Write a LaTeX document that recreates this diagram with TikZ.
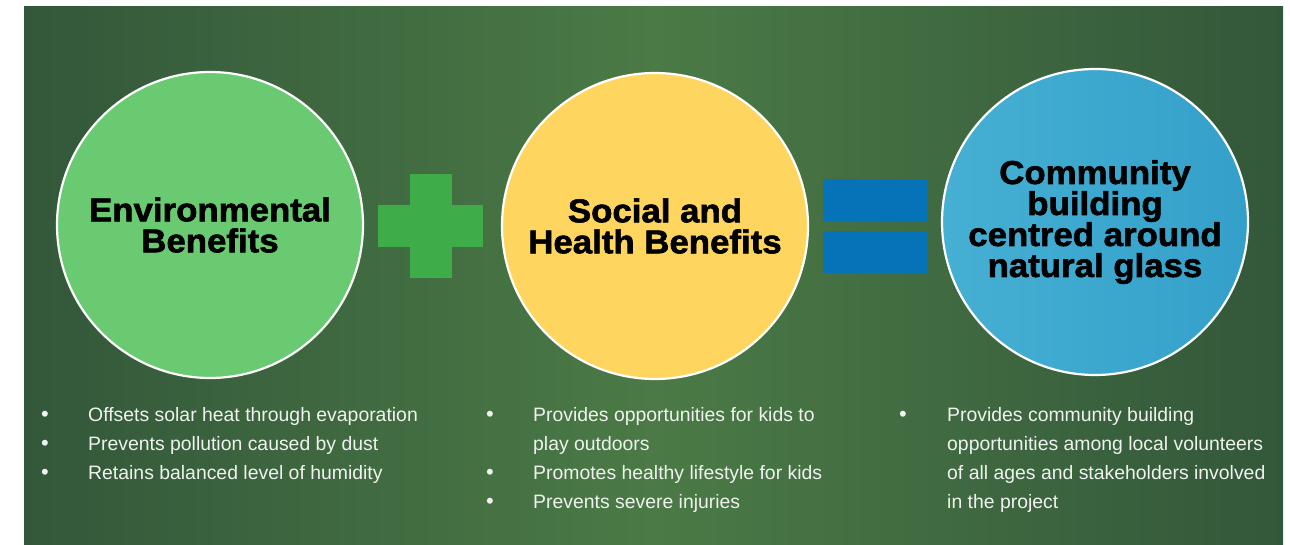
\documentclass[tikz,border=0pt]{standalone}
\usepackage{fontspec}
\setmainfont{Liberation Sans}
\newfontfamily\heavyfont{Liberation Sans}[BoldFeatures={FakeBold=1.8, FakeStretch=1.055}]
\usetikzlibrary{positioning}

\definecolor{bgdark}{HTML}{33573A}
\definecolor{bglight}{HTML}{4B7A46}
\definecolor{envgreen}{HTML}{6ACA72}
\definecolor{socyellow}{HTML}{FED65F}
\definecolor{comblueL}{HTML}{46B0D3}
\definecolor{comblueR}{HTML}{34A0CA}
\definecolor{plusgreen}{HTML}{3FAC4A}
\definecolor{eqblue}{HTML}{0672B8}
\definecolor{itemwhite}{HTML}{F0F2EF}

\tikzset{
	bubble/.style={circle, draw=white, line width=2.2pt, minimum size=306pt, inner sep=0pt,
		align=center, font=\heavyfont\bfseries\fontsize{33}{31}\selectfont},
	bar/.style={inner sep=0pt, outer sep=0pt},
	item/.style={anchor=base west, inner sep=0pt, text=itemwhite, font=\fontsize{19.4}{23}\selectfont},
	dot/.style={anchor=base, inner sep=0pt, text=itemwhite, font=\fontsize{22}{23}\selectfont}
}

\begin{document}
\begin{tikzpicture}[x=1pt, y=-1pt]
	\useasboundingbox (0,0) rectangle (1290,545);
	\shade[left color=bgdark, right color=bgdark, middle color=bglight] (24,7) rectangle (1283,545);

	% circles
	\node (env) [bubble, fill=envgreen] at (210,225) {Environmental\\Benefits};
	\node (soc) [bubble, fill=socyellow] at (655,226) {Social and\\Health Benefits};
	\node (com) [bubble, left color=comblueL, right color=comblueR] at (1095,222) {Community\\building\\centred around\\natural glass};

	% plus and equals
	\node (plusv) [bar, fill=plusgreen, minimum width=41.7pt, minimum height=103.7pt] at (430.8,225.9) {};
	\node (plush) [bar, fill=plusgreen, minimum width=104.4pt, minimum height=41.7pt] at (430.5,225.9) {};
	\node (eqtop) [bar, fill=eqblue, minimum width=104pt, minimum height=41.7pt] at (874.7,199.9) {};
	\node (eqbot) [bar, fill=eqblue, minimum width=104pt, minimum height=42pt] at (874.7,251.7) {};

	% environmental items
	\foreach \y/\txt [count=\i] in {421/Offsets solar heat through evaporation, 450/Prevents pollution caused by dust, 479/Retains balanced level of humidity} {
		\node (envdot\i) [dot] at (45,\y) {•};
		\node (envitem\i) [item] at (88,\y) {\txt};
	}

	% social items
	\node (socdot1) [dot] at (490,421) {•};
	\node (socitem1) [item] at (533,421) {Provides opportunities for kids to};
	\node (socitem2) [item] at (533,450) {play outdoors};
	\node (socdot3) [dot] at (490,479) {•};
	\node (socitem3) [item] at (533,479) {Promotes healthy lifestyle for kids};
	\node (socdot4) [dot] at (490,508) {•};
	\node (socitem4) [item] at (533,508) {Prevents severe injuries};

	% community items
	\node (comdot1) [dot] at (903,421) {•};
	\foreach \y/\txt [count=\i] in {421/Provides community building, 450/opportunities among local volunteers, 479/of all ages and stakeholders involved, 508/in the project} {
		\node (comitem\i) [item] at (947,\y) {\txt};
	}
\end{tikzpicture}
\end{document}
